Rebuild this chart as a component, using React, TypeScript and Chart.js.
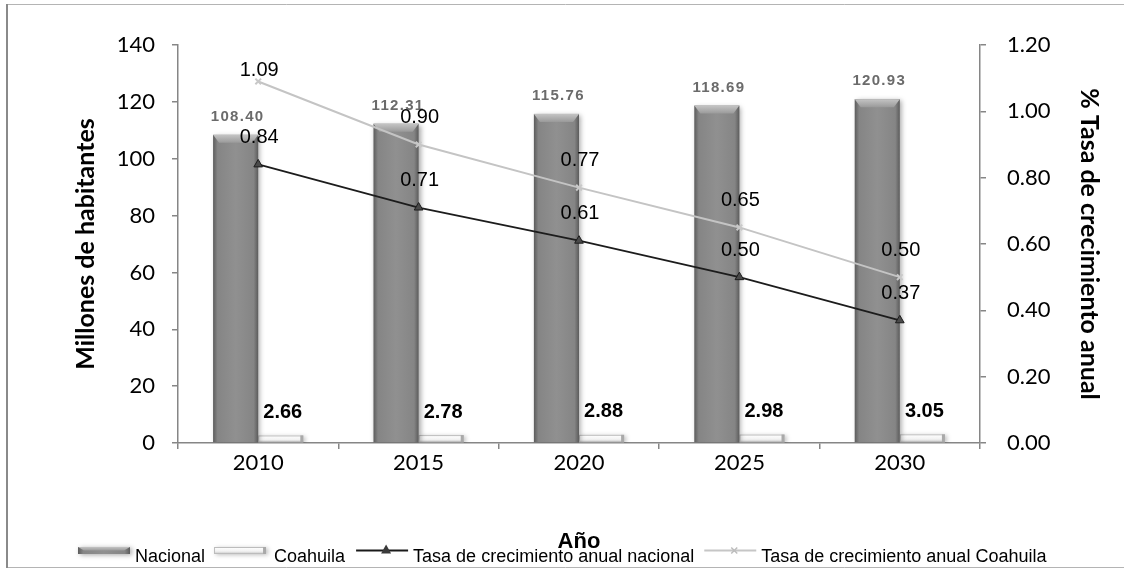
import React, { useEffect, useRef } from "react";
import { Chart, registerables } from "chart.js";

Chart.register(...registerables);

const years = ["2010", "2015", "2020", "2025", "2030"];
const nacional = [108.4, 112.31, 115.76, 118.69, 120.93];
const coahuila = [2.66, 2.78, 2.88, 2.98, 3.05];
const tasaNacional = [0.84, 0.71, 0.61, 0.5, 0.37];
const tasaCoahuila = [1.09, 0.9, 0.77, 0.65, 0.5];
const legendLabels = [
  "Nacional",
  "Coahuila",
  "Tasa de crecimiento anual nacional",
  "Tasa de crecimiento anual Coahuila",
];

const AXIS = "#868686";
const TICK_FONT = { family: "Lato, 'Open Sans', sans-serif", size: 22 };
const TITLE_FONT = { family: "Lato, 'Open Sans', sans-serif", size: 25, weight: "bold" as const };

function drawBevelBar(ctx: CanvasRenderingContext2D, l: number, t: number, r: number, b: number, kind: number) {
  const w = r - l;
  const h = b - t;
  ctx.save();
  if (kind === 0) {
    ctx.shadowColor = "rgba(0,0,0,0.35)";
    ctx.shadowBlur = 5;
    ctx.shadowOffsetX = 2;
    ctx.shadowOffsetY = 1;
    const g = ctx.createLinearGradient(l, 0, r, 0);
    g.addColorStop(0, "#5c5c5c");
    g.addColorStop(0.1, "#858585");
    g.addColorStop(0.5, "#909090");
    g.addColorStop(0.9, "#858585");
    g.addColorStop(1, "#5c5c5c");
    ctx.fillStyle = g;
    ctx.fillRect(l, t, w, h);
    ctx.shadowColor = "transparent";
    const bv = Math.min(8, h / 2);
    const gi = Math.min(6, w / 4);
    const g2 = ctx.createLinearGradient(0, t, 0, t + bv);
    g2.addColorStop(0, "#c4c4c4");
    g2.addColorStop(1, "#9a9a9a");
    ctx.fillStyle = g2;
    ctx.beginPath();
    ctx.moveTo(l, t);
    ctx.lineTo(r, t);
    ctx.lineTo(r - gi, t + bv);
    ctx.lineTo(l + gi, t + bv);
    ctx.closePath();
    ctx.fill();
  } else {
    ctx.shadowColor = "rgba(0,0,0,0.25)";
    ctx.shadowBlur = 4;
    ctx.shadowOffsetX = 2;
    ctx.shadowOffsetY = 1;
    const g = ctx.createLinearGradient(0, t, 0, b);
    g.addColorStop(0, "#ffffff");
    g.addColorStop(0.6, "#f2f2f2");
    g.addColorStop(1, "#c4c4c4");
    ctx.fillStyle = g;
    ctx.fillRect(l, t, w, h);
    ctx.shadowColor = "transparent";
    ctx.strokeStyle = "#bcbcbc";
    ctx.lineWidth = 1;
    ctx.strokeRect(l + 0.5, t + 0.5, w - 1, h - 1);
    ctx.fillStyle = "#a9a9a9";
    ctx.fillRect(r - 3, t, 3, h);
  }
  ctx.restore();
}

const bevelPlugin = {
  id: "bevelBars",
  beforeDatasetDraw(chart: any, args: any) {
    const meta = args.meta;
    if (meta.type !== "bar") return;
    const ctx = chart.ctx;
    ctx.save();
    ctx.beginPath();
    ctx.rect(chart.chartArea.left, chart.chartArea.top - 5, chart.chartArea.width, chart.chartArea.height + 5);
    ctx.clip();
    meta.data.forEach((el: any) => {
      const p = el.getProps(["x", "y", "width", "base"], true);
      drawBevelBar(ctx, p.x - p.width / 2, p.y, p.x + p.width / 2, p.base, args.index);
    });
    ctx.restore();
    return false;
  },
};

const labelPlugin = {
  id: "valueLabels",
  afterDatasetsDraw(chart: any) {
    const ctx = chart.ctx;
    ctx.save();
    ctx.textAlign = "center";
    ctx.textBaseline = "middle";
    chart.data.datasets.forEach((ds: any, i: number) => {
      const meta = chart.getDatasetMeta(i);
      meta.data.forEach((el: any, j: number) => {
        const v = ds.data[j] as number;
        const txt = v.toFixed(2);
        if (i === 0) {
          ctx.font = "bold 15px 'Liberation Sans', Arial, sans-serif";
          (ctx as any).letterSpacing = "1.3px";
          ctx.fillStyle = "#6b6b6b";
          ctx.fillText(txt, el.x + 2, el.y - 18);
          (ctx as any).letterSpacing = "0px";
        } else if (i === 1) {
          ctx.font = "bold 20px 'Liberation Sans', Arial, sans-serif";
          ctx.fillStyle = "#000";
          ctx.fillText(txt, el.x + 2, el.y - 23);
        } else {
          ctx.font = "20px 'Liberation Sans', Arial, sans-serif";
          ctx.fillStyle = "#000";
          const ly = Math.max(el.y - 27, chart.chartArea.top + 25);
          ctx.fillText(txt, el.x + 1, ly);
        }
      });
    });
    ctx.restore();
  },
};

const framePlugin = {
  id: "frameLegend",
  afterDraw(chart: any) {
    const ctx = chart.ctx;
    ctx.save();
    ctx.strokeStyle = "#b4b4b4";
    ctx.lineWidth = 1;
    ctx.beginPath();
    ctx.moveTo(7, 4.5);
    ctx.lineTo(1124, 4.5);
    ctx.moveTo(7, 567.5);
    ctx.lineTo(1124, 567.5);
    ctx.stroke();
    ctx.strokeStyle = "#8a8a8a";
    ctx.lineWidth = 2;
    ctx.beginPath();
    ctx.moveTo(7, 4);
    ctx.lineTo(7, 568);
    ctx.stroke();

    ctx.font = "18px 'Liberation Sans', Arial, sans-serif";
    ctx.textBaseline = "middle";
    ctx.textAlign = "left";
    const ty = 557;
    const sy = 547;
    const sh = 7;
    const sw = 52;
    let x = 78;
    const gapsAfterSwatch = [5, 8, 5, 5];
    const gapsAfterText = [9, 11, 10, 0];
    legendLabels.forEach((lab, i) => {
      if (i < 2) {
        drawBevelBar(ctx, x, sy, x + sw, sy + sh, i);
      } else {
        const cy = sy + sh / 2;
        ctx.save();
        ctx.strokeStyle = i === 2 ? "#1a1a1a" : "#c6c6c6";
        ctx.lineWidth = 2;
        ctx.beginPath();
        ctx.moveTo(x, cy);
        ctx.lineTo(x + sw, cy);
        ctx.stroke();
        const mx = x + sw / 2 + 4;
        if (i === 2) {
          ctx.fillStyle = "#3a3a3a";
          ctx.beginPath();
          ctx.moveTo(mx, cy - 6);
          ctx.lineTo(mx + 5, cy + 3);
          ctx.lineTo(mx - 5, cy + 3);
          ctx.closePath();
          ctx.fill();
        } else {
          ctx.strokeStyle = "#bdbdbd";
          ctx.lineWidth = 1.5;
          ctx.beginPath();
          ctx.moveTo(mx - 3, cy - 3);
          ctx.lineTo(mx + 3, cy + 3);
          ctx.moveTo(mx + 3, cy - 3);
          ctx.lineTo(mx - 3, cy + 3);
          ctx.stroke();
        }
        ctx.restore();
      }
      x += sw + gapsAfterSwatch[i];
      ctx.fillStyle = "#000";
      ctx.fillText(lab, x, ty);
      x += ctx.measureText(lab).width + gapsAfterText[i];
    });
    ctx.restore();
  },
};

export default function App() {
  const ref = useRef<HTMLCanvasElement | null>(null);
  useEffect(() => {
    if (!ref.current) return;
    const chart = new Chart(ref.current, {
      type: "bar",
      data: {
        labels: years,
        datasets: [
          {
            label: legendLabels[0],
            data: nacional,
            yAxisID: "y",
            backgroundColor: "#8a8a8a",
            categoryPercentage: 0.5625,
            barPercentage: 1,
            order: 2,
          },
          {
            label: legendLabels[1],
            data: coahuila,
            yAxisID: "y",
            backgroundColor: "#f2f2f2",
            categoryPercentage: 0.5625,
            barPercentage: 1,
            order: 2,
          },
          {
            type: "line",
            label: legendLabels[2],
            data: tasaNacional,
            yAxisID: "y1",
            borderColor: "#1c1c1c",
            borderWidth: 1.8,
            pointStyle: "triangle",
            pointRadius: 5,
            pointBackgroundColor: "#4a4a4a",
            pointBorderColor: "#1c1c1c",
            pointBorderWidth: 1,
            order: 0,
          } as any,
          {
            type: "line",
            label: legendLabels[3],
            data: tasaCoahuila,
            yAxisID: "y1",
            borderColor: "#c4c4c4",
            borderWidth: 2,
            pointStyle: "crossRot",
            pointRadius: 4,
            pointBorderColor: "#c8c8c8",
            pointBorderWidth: 2,
            order: 1,
          } as any,
        ],
      },
      options: {
        responsive: false,
        maintainAspectRatio: false,
        animation: false,
        layout: { padding: { top: 45, left: 0, right: 0, bottom: 0 } },
        plugins: {
          legend: { display: false },
          tooltip: { enabled: false },
        },
        scales: {
          x: {
            offset: true,
            grid: {
              display: true,
              drawOnChartArea: false,
              drawTicks: true,
              tickLength: 6,
              color: AXIS,
              lineWidth: 1.5,
              offset: true,
            },
            border: { color: AXIS, width: 1.5 },
            ticks: { font: TICK_FONT, color: "#000", padding: 1 },
            title: {
              display: true,
              text: "Año",
              color: "#000",
              font: { family: "'Liberation Sans', Arial, sans-serif", size: 22, weight: "bold" },
              padding: { top: 0, bottom: 16 },
            },
            afterFit: (s: any) => {
              s.height = 128;
            },
          },
          y: {
            position: "left",
            min: 0,
            max: 140,
            ticks: { stepSize: 20, font: TICK_FONT, color: "#000", padding: 17 },
            grid: { drawOnChartArea: false, tickLength: 6, color: AXIS, lineWidth: 1.5 },
            border: { color: AXIS, width: 1.5 },
            title: {
              display: true,
              text: "Millones de habitantes",
              color: "#000",
              font: TITLE_FONT,
              padding: { top: 71, bottom: 0 },
            },
            afterFit: (s: any) => {
              s.width = 178;
            },
          },
          y1: {
            position: "right",
            min: 0,
            max: 1.2,
            ticks: {
              stepSize: 0.2,
              font: TICK_FONT,
              color: "#000",
              padding: 21,
              callback: (v: any) => Number(v).toFixed(2),
            },
            grid: { drawOnChartArea: false, tickLength: 6, color: AXIS, lineWidth: 1.5 },
            border: { color: AXIS, width: 1.5 },
            title: {
              display: true,
              text: "% Tasa de crecimiento anual",
              color: "#000",
              font: TITLE_FONT,
              padding: { top: 20, bottom: 0 },
            },
            afterFit: (s: any) => {
              s.width = 144;
            },
          },
        },
      } as any,
      plugins: [bevelPlugin, labelPlugin, framePlugin],
    });
    return () => chart.destroy();
  }, []);
  return (
    <div style={{ position: "fixed", left: 0, top: 0, width: 1124, height: 571, background: "#fff" }}>
      <canvas ref={ref} width={1124} height={571} style={{ display: "block" }} />
    </div>
  );
}
